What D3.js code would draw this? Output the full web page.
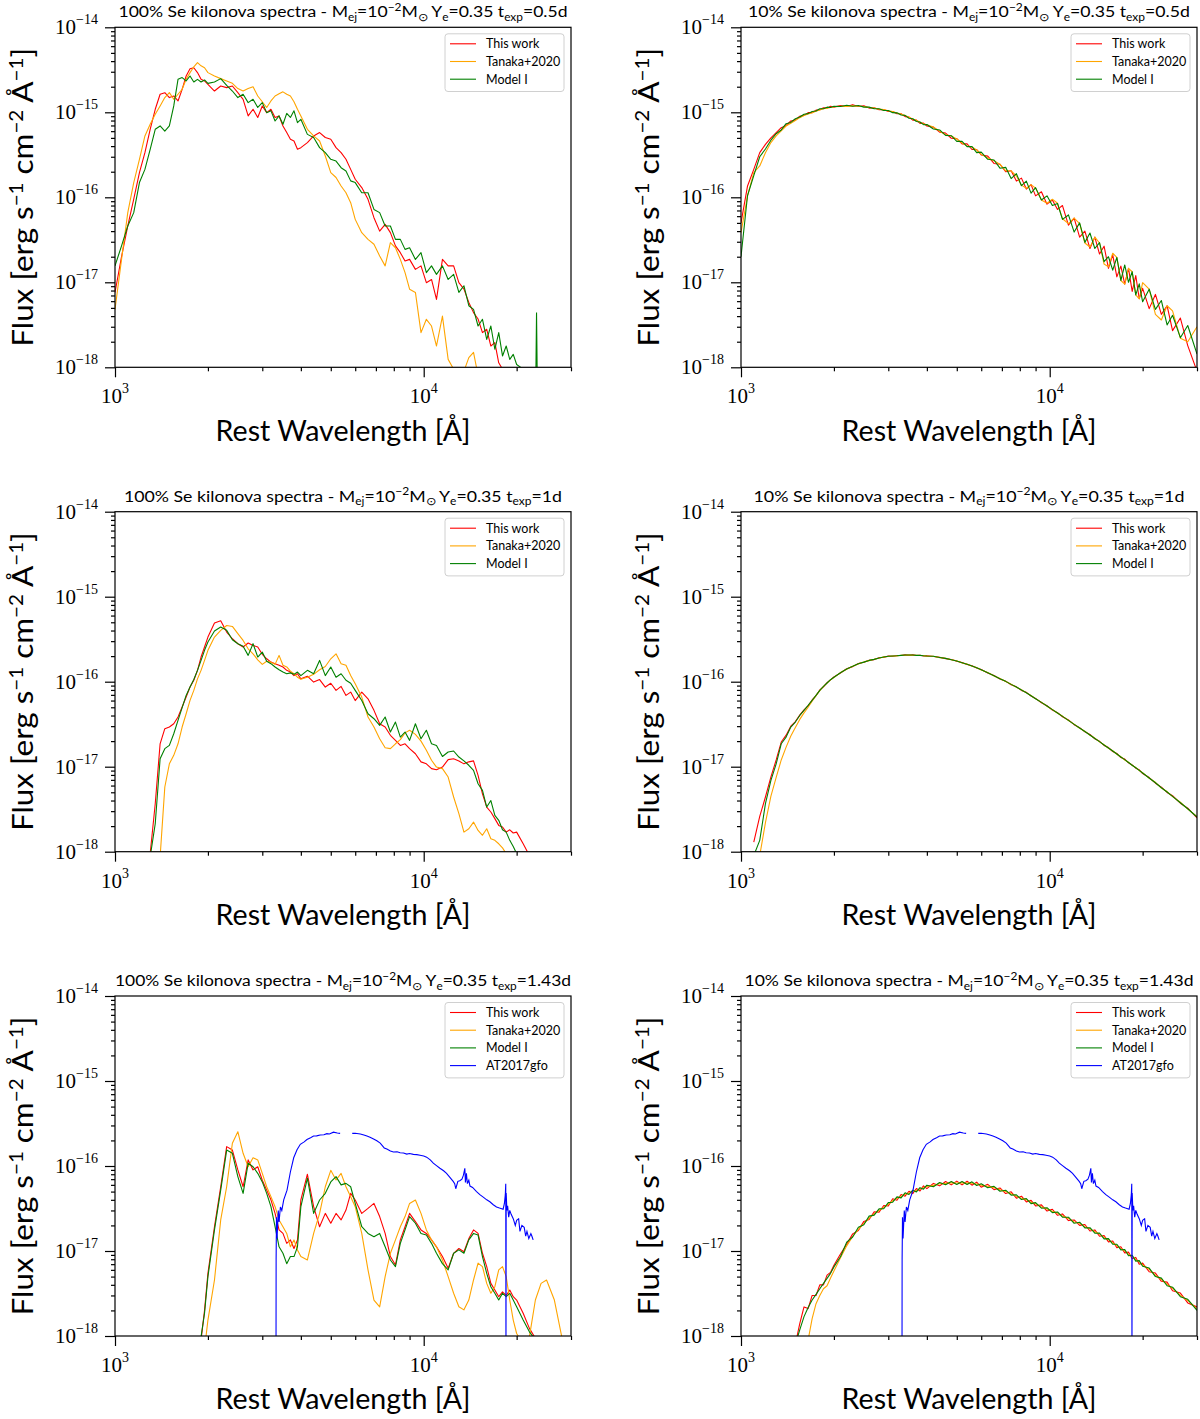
<!DOCTYPE html>
<html>
<head>
<meta charset="utf-8">
<script src="https://cdn.jsdelivr.net/npm/d3@7"></script>
<style>
  body { margin: 0; background: #fff; }
</style>
</head>
<body>
<main></main>
<script>
// DATA (flux values in units of 1e-18 erg s^-1 cm^-2 A^-1, null = not drawn)
const UNIT = 1e-18;

// wavelength grid shared by the model spectra [A]
const WL = [1000,1050,1100,1150,1200,1250,1300,1350,1400,1450,
  1500,1550,1600,1650,1700,1750,1800,1850,1900,1950,
  2000,2100,2200,2300,2400,2500,2600,2700,2800,2900,
  3000,3100,3200,3300,3400,3500,3600,3700,3800,3900,
  4000,4200,4400,4600,4800,5000,5200,5400,5600,5800,
  6000,6300,6600,6900,7200,7500,7800,8100,8400,8700,
  9000,9400,9800,10200,10600,11000,11500,12000,12500,13000,
  13500,14000,14500,15000,15500,16000,16500,17000,17500,18000,
  18500,19000,19500,20000,21000,22000,23000,24000,25000,26500,
  28000,30000];

// 100% Se, t = 0.5 d
const A_THIS = [7.6,20,46,95,195,335,631,1085,1630,1700,
  1490,1556,1360,1864,2675,3260,3340,2930,2443,2340,
  2130,1780,2040,1950,2040,1702,1422,906,1085,870,
  1188,991,1085,870,906,691,577,481,460,367,
  384,440,527,577,505,481,384,335,280,213,
  163,130,94.7,57.6,40,48,38.4,26.8,22.3,17.8,
  18.6,14.2,15.6,9.9,10.8,6.3,18.6,15.6,15.6,9.9,
  8.3,5.8,4.4,3.7,2.56,2.8,1.78,1.95,1.13,0.95,
  null,null,null,null,null,null,null,null,null,null,
  null,null];
const A_TANAKA = [4.8,18.6,66,149,280,527,723,950,1188,1490,
  1702,1422,1630,1864,2443,2930,3430,3841,3520,3340,
  2930,2675,2490,2340,2190,1900,1780,1900,2000,1556,
  1330,1140,1360,1556,1650,1740,1630,1556,1330,1085,
  906,631,527,460,306,195,171,136,113,86.5,
  55,38.4,32,28,20.4,15.6,29.3,25.5,18.6,13,
  8.3,7.6,2.56,3.67,3.06,1.78,4,1.24,0.95,0.8,
  0.9,1.3,1.5,0.8,null,null,null,null,null,null,
  null,null,null,null,null,null,null,null,null,null,
  null,null];
const A_MODEL = [15.6,26.8,46,66,149,213,367,631,691,600,
  691,1188,2443,2560,2340,2675,2270,2443,2270,2400,
  2190,2270,2490,2080,1780,1490,1630,1300,1422,1140,
  1300,991,1040,790,906,723,970,870,1040,756,
  828,550,505,384,335,280,267,223,204,156,
  149,113,113,72,66,46,46,32,32,24.4,
  25.5,18.6,22.3,13,15.6,12.4,15.6,10.8,12.4,7.6,
  9.1,5.3,4.8,3.06,3.67,2.13,3.06,1.63,2.56,1.36,
  1.78,1.24,1.42,1.08,0.95,null,null,null,null,null,
  null,null];
const A_MODEL_SPIKE_WL = [23050,23200,23350];
const A_MODEL_SPIKE_FLUX = [0.5,4.4,0.5];

// 10% Se, t = 0.5 d
const B_THIS = [50,136,213,335,420,500,577,660,700,790,
  810,900,920,990,990,1060,1070,1130,1120,1180,
  1150,1200,1170,1230,1170,1190,1120,1130,1070,1080,
  1020,1020,960,960,890,880,810,810,740,745,
  690,670,585,570,495,490,425,425,365,365,
  315,305,250,245,200,205,155,168,125,141,
  104,116,83,93,72,80,47,57,34,40,
  25,34,21.5,26.6,14.6,21,11.6,15.5,9.5,14.6,
  7.8,12,6.4,8.5,4.9,7.2,4.2,5.3,2.7,3.8,
  1.8,0.9];
const B_TANAKA = [38.5,104,195,234,335,440,527,603,690,745,
  800,865,915,955,990,1030,1065,1100,1120,1140,
  1160,1175,1175,1190,1180,1170,1140,1125,1090,1075,
  1040,1020,980,955,915,875,835,805,765,735,
  715,670,600,545,525,485,435,400,390,360,
  320,290,270,245,205,205,178,139,128,141,
  128,93,85,95,85,56,49,57,49,29,
  26,34,29,16.4,15.2,22,19.6,10.5,9.5,14.6,
  13.3,7.1,6.4,9.9,8.3,4.2,3.6,5.3,4.6,2.2,
  2.0,3.0];
const B_MODEL = [20,105,180,300,370,470,560,620,735,760,
  840,880,950,965,1020,1035,1100,1100,1150,1140,
  1180,1170,1210,1180,1200,1150,1150,1100,1100,1050,
  1050,990,985,930,920,850,840,780,770,715,
  720,635,620,535,530,455,455,395,395,335,
  340,280,275,220,225,166,190,137,155,112,
  130,93,104,80,84.6,55,62,39,50,29.5,
  38,25,29.3,17.5,20,13.9,19.6,10.5,16,10,
  13.3,7.1,9.6,5.9,8.3,4.8,6.1,3.15,4.1,2.23,
  3.1,1.43];

// 100% Se, t = 1 d
const C_THIS = [null,null,null,null,null,null,0.95,3.67,18.6,28,
  29.3,32,38.4,50.3,66,86.5,104,136,195,256,
  335,490,520,384,320,280,256,285,267,256,
  210,186,170,163,156,149,136,130,118,124,
  108,116,99,106,86.5,96,79,88,69,75.5,
  60,75.5,63,46,32,29.3,23.4,20.4,17.8,18.6,
  16.3,14.2,11.4,10.8,9.5,9.2,9.9,12.1,12.4,11.7,
  10.8,11.4,11.7,7.9,4.8,3.35,2.93,2.45,2.04,1.95,
  1.7,1.81,1.66,1.7,1.24,0.9,null,null,null,null,
  null,null];
const C_TANAKA = [null,null,null,null,null,null,null,null,0.87,5.77,
  10.8,13.6,18.6,29.3,42,60.3,79,108,136,178,
  234,335,402,458,447,367,306,244,213,181,
  160,174,170,160,204,156,149,133,124,113,
  107,113,122,138,151,186,213,163,156,118,
  94.7,66,38.4,29.3,21.3,16.7,16.3,18.6,20.8,25,
  26.8,24,20,15.6,11.9,9.9,9.5,7.56,4.4,2.8,
  1.7,1.86,2.23,1.78,1.56,1.86,1.42,1.36,1.24,1.11,
  0.95,null,null,null,null,null,null,null,null,null,
  null,null];
const C_MODEL = [null,null,null,null,null,null,0.87,2.13,12.4,16.3,
  17.8,24.4,35.1,49.5,69,86.5,106,136,178,234,
  293,394,440,402,312,280,261,204,280,195,
  223,174,163,149,138,130,124,127,122,130,
  118,136,124,178,118,149,113,124,104,96,
  79,60,42,36.7,30.6,38.4,25.6,33.5,22.3,25.6,
  20.4,32,21.3,26.8,18.6,17.8,13.2,14.9,15.3,13,
  11.7,10.4,9.06,6.3,5.27,3.35,4,2.67,2.34,1.81,
  1.7,1.36,1.15,0.95,null,null,null,null,null,null,
  null,null];

// 10% Se, t = 1 d
const D_THIS = [null,null,1.3,2.6,4.4,7.6,12,19.5,23.5,30,
  34,40.5,46.5,52,61,68.5,80,87,97.5,105,
  114,126.5,142,150.5,164,169,179,182,191,194,
  200,199.5,203,203,207,205,207,203,205,201,
  201.5,198,194,187,182.5,174,168,159,154,145,
  139,126.5,118.5,107.5,101.5,92,87,79,75,67.8,
  63.6,56.6,52.2,46.5,43.2,38.7,35.5,31.2,28.8,25.7,
  23.9,21.3,19.9,17.8,16.8,15.1,14.3,12.8,12.3,11.1,
  10.5,9.6,9.2,8.3,7.45,6.4,5.75,4.98,4.55,3.72,
  3.25,2.5];
const D_TANAKA = [null,null,null,0.9,2.2,4.5,7.5,12,17,23,
  29,36,43,50,59,68.5,78.5,88,96,105,
  112,128,140,152,162,171,177,184,189,196,
  198,201,201,205,205,207,205,205,203,203,
  200,199.5,192,189,181,176,166,161,152,147,
  137,128.5,117,109,100.4,93.5,86,80.3,73.9,68.8,
  62.8,57.5,51.4,47.2,42.5,39.4,34.9,31.7,28.3,26.2,
  23.4,21.7,19.6,18.1,16.5,15.4,14,13.1,12,11.3,
  10.3,9.8,9,8.5,7.3,6.55,5.6,5.1,4.45,3.82,
  3.17,2.6];
const D_MODEL = [null,null,0.9,1.36,3.67,6.91,10.8,18.6,22.3,29.3,
  33.5,40.1,46,52.6,60.3,69,79,88.1,96.5,105.6,
  113,127.6,141,151.5,163,170,178,183,190,195,
  199,200.5,202,204,206,206,206,204,204,202,
  200.5,199,193,188,181.5,175,167,160,153,146,
  138,127.6,117.7,108.4,100.9,93,86.5,79.8,74.3,68.4,
  63.1,57.1,51.7,46.9,42.8,39.1,35.1,31.5,28.5,26,
  23.6,21.5,19.7,18,16.6,15.3,14.1,13,12.1,11.2,
  10.4,9.73,9.06,8.42,7.36,6.48,5.66,5.04,4.48,3.77,
  3.2,2.56];

// 100% Se, t = 1.43 d
const E_THIS = [null,null,null,null,null,null,null,null,null,null,
  null,null,null,null,null,null,null,null,0.9,2.0,
  5.46,19.3,57,169,154,90,57,118,90,98,
  68,52,40,27.7,17.7,16.1,12.3,13.5,10.7,13.5,
  40,80,33.2,19.3,27.7,21.2,27.7,23.2,30.3,47.7,
  39.8,27.7,31.7,36.3,25.4,16.1,8.6,6.84,13.5,19.3,
  27.7,22.2,17.7,16.1,13.5,11.2,8.6,6.25,9.4,10.7,
  9.8,14,17.7,16.1,9.4,6.54,4.16,3.47,2.9,3.3,
  3.0,3.47,2.9,2.65,1.85,1.23,0.94,null,null,null,
  null,null];
const E_TANAKA = [null,null,null,null,null,null,null,null,null,null,
  null,null,null,null,null,null,null,null,null,0.7,
  1.54,4.56,23.2,57,185,253,141,98,125,118,
  82,57,43.6,33.2,23.2,19.3,16.1,11.2,13.5,10.3,
  8.6,7.84,16.1,27.7,57,89,68.4,82,57,43.6,
  33.2,16.1,6,2.65,2.2,5,9.4,13.5,19.3,25.4,
  36.3,39.8,27.7,17.7,13.5,11.2,7.84,5,3.18,2.21,
  2.03,2.65,4.56,7.2,6.54,4.16,3.18,3.8,6,6.54,
  5,2.65,1.54,1.07,0.8,0.98,2.65,4.16,4.56,2.65,
  0.98,null];
const E_MODEL = [null,null,null,null,null,null,null,null,null,null,
  null,null,null,null,null,null,null,null,0.98,1.85,
  5,17.7,52,154,141,75,47.7,108,98,82,
  65,47.7,33.2,19.3,11.2,9.4,7.1,8.6,8.6,11.2,
  33.2,72,27.7,39.8,47.7,65,75,60,62.5,57,
  36.3,19.3,16.1,14.7,16.1,11.2,7.84,6.54,12.3,17.7,
  25.4,21.2,16.1,15.4,12.3,9.4,7.1,6,9.4,10.3,
  9.4,13.5,16.1,15.4,8.6,5.46,3.8,3.18,2.65,3.18,
  2.9,3.18,2.65,2.21,1.54,1.12,0.9,null,null,null,
  null,null];

// 10% Se, t = 1.43 d
const F_THIS = [null,null,null,null,null,null,null,null,null,null,
  0.8,1.4,2.2,2.1,3.0,3.0,4.0,4.0,5.2,5.6,
  6.8,9.2,12.0,15.9,17.4,22.3,23.5,28.9,28.6,34.3,
  33.9,41.1,39.5,46.2,44.2,50.5,47.4,54.3,50.8,58.3,
  54.2,62.4,58.4,65.7,60.0,66.4,60.0,66.2,59.5,64.6,
  56.4,60.8,52.7,55.2,47.4,49.7,41.8,44.1,37.8,39.5,
  33.9,34.9,29.5,31.0,26.3,27.3,22.8,23.2,20.0,20.5,
  17.2,17.7,14.9,15.2,12.8,13.1,10.9,11.2,9.5,9.7,
  8.1,8.4,7.0,7.2,5.7,5.5,4.4,4.3,3.4,3.2,
  2.45,2.2];
const F_TANAKA = [null,null,null,null,null,null,null,null,null,null,
  null,null,null,0.9,1.6,2.4,3.0,3.6,3.9,4.8,
  5.8,8.3,11.5,14.8,18.0,21.0,24.4,27.3,30.0,32.5,
  35.5,39.0,41.8,43.8,46.7,48.0,50.1,51.5,53.7,55.3,
  57.3,59.2,61.7,62.4,63.4,63.0,63.4,62.8,62.8,61.3,
  59.6,57.7,55.7,52.4,50.1,47.1,44.2,41.8,40.0,37.4,
  35.9,33.0,31.3,29.3,27.9,25.8,24.2,21.9,21.2,19.3,
  18.3,16.8,15.8,14.4,13.6,12.4,11.6,10.6,10.1,9.1,
  8.65,7.9,7.5,6.85,6.1,5.15,4.65,4.05,3.65,3.0,
  2.62,2.1];
const F_MODEL = [null,null,null,null,null,null,null,null,null,null,
  0.8,1.18,1.69,2.17,2.65,3.09,3.6,4.16,4.76,5.46,
  6.5,8.55,12.7,14.6,19.0,20.4,25.7,26.4,31.3,31.4,
  37.1,37.5,43.3,42.2,48.4,46.2,51.9,49.6,55.6,53.3,
  59.4,57.0,64.0,60.1,65.7,60.7,65.7,60.5,65.1,59.0,
  61.8,55.6,57.7,50.5,51.9,45.4,45.8,40.3,41.4,36.1,
  37.1,31.9,32.3,28.3,28.8,25.0,25.0,21.2,21.8,18.7,
  18.8,16.2,16.3,13.9,14.0,12.0,12.0,10.3,10.4,8.8,
  8.9,7.6,7.7,6.6,6.3,5.0,4.8,3.9,3.75,2.9,
  2.7,2.0];

// AT2017gfo observed spectrum (same in both bottom panels)
const AT2017GFO_WL = [3300,3323,3326,3335,3349,3380,3400,3434,3470,3520,
  3608,3699,3792,3887,3984,4100,4186,4300,4398,4500,
  4621,4750,4856,4950,5102,5250,5361,5500,5868,6000,
  6232,6400,6548,6700,6880,7050,7229,7400,7450,7596,
  7800,7981,8200,8386,8600,8811,9000,9258,9500,9728,
  10000,10221,10500,10740,11000,11285,11600,11857,12100,12458,
  12600,12700,12900,13090,13300,13450,13590,13650,13750,13850,
  14000,14120,14400,14830,15200,15590,16000,16380,16800,17210,
  17600,18080,18250,18380,18440,18470,18500,18600,18700,18850,
  19000,19200,19500,19800,20000,20300,20500,20800,21160,21400,
  21600,21900,22240,22400,22620];
const AT2017GFO_FLUX = [0.5,0.5,8,25,14,30,22,33,30,40,
  52,85,125,155,180,192,205,215,225,226,
  232,233,240,238,250,244,242,null,242,243,
  238,232,225,218,208,198,186,168,163,158,
  150,146,147,143,142,138,140,137,136,134,
  131,127,118,108,101,94,88,82,75,66,
  62,54,66,67,70,78,94,64,82,62,
  68,58,56,50,46,43,40,38,35,33,
  32,31,36,46,62,0.5,48,30,34,25,
  30,27,24,20,23,24,17,20,19,15,
  17,14,16,15,13.5];

// labels and ticks
const COL_FRACTION = ["100%", "10%"];
const ROW_TIME = ["0.5d", "1d", "1.43d"];
const LEGEND_LABELS = ["This work", "Tanaka+2020", "Model I", "AT2017gfo"];
const X_MAJOR_EXP = [3, 4];
const X_MINOR = [2000,3000,4000,5000,6000,7000,8000,9000,20000,30000];
const Y_MAJOR_EXP = [-18, -17, -16, -15, -14];
const X_DOMAIN = [1000, 30000];
const Y_DOMAIN = [1e-18, 1e-14];

const GRID = [
  [[A_THIS, A_TANAKA, A_MODEL], [B_THIS, B_TANAKA, B_MODEL]],
  [[C_THIS, C_TANAKA, C_MODEL], [D_THIS, D_TANAKA, D_MODEL]],
  [[E_THIS, E_TANAKA, E_MODEL], [F_THIS, F_TANAKA, F_MODEL]]
];



// LAYOUT
const W = 456, H = 340;
const COL_X = [115, 741];
const ROW_Y = [27.3, 511.7, 996];
const COLORS = ["#ff0000", "#ffa500", "#008000", "#0000ff"];
const SANS = "Lato, 'Open Sans', sans-serif";
const SERIF = "'Liberation Serif', 'DejaVu Serif', serif";
const TITLE_W = [[450, 443], [439, 432], [457, 450]];

const svg = d3.select("main").append("svg")
  .attr("width", 1200)
  .attr("height", 1419)
  .style("display", "block")
  .style("background", "#fff");

const x = d3.scaleLog().domain(X_DOMAIN).range([0, W]);
const y = d3.scaleLog().domain(Y_DOMAIN).range([H, 0]);

const line = d3.line()
  .defined(d => d[1] != null)
  .x(d => x(d[0]))
  .y(d => y(d[1] * UNIT));

const yMinor = [];
Y_MAJOR_EXP.slice(0, -1).forEach(e => {
  for (let k = 2; k <= 9; k++) yMinor.push(k * Math.pow(10, e));
});

// squeeze a text node to a target width
function fitWidth(node, target) {
  const w = node.getBBox().width;
  return w > 0 ? target / w : 1;
}

function powLabel(g, px, py, exp, anchor) {
  const t = g.append("text")
    .attr("x", px).attr("y", py)
    .attr("text-anchor", anchor)
    .attr("font-family", SERIF)
    .attr("font-size", 21)
    .attr("fill", "#000");
  t.append("tspan").text("10");
  t.append("tspan").attr("dy", -10).attr("font-size", 14)
    .text(exp < 0 ? "\u2212" + (-exp) : String(exp));
}

// parts: [text, kind] with kind 0 = normal, 1 = subscript, 2 = superscript
function richText(el, parts, size, subSize, subDy, supDy) {
  let shift = 0;
  parts.forEach(([s, k]) => {
    const target = k === 1 ? subDy : k === 2 ? supDy : 0;
    el.append("tspan")
      .attr("dy", target - shift)
      .attr("font-size", k ? subSize : size)
      .text(s);
    shift = target;
  });
}

let clipId = 0;
GRID.forEach((row, r) => {
  row.forEach((series, c) => {
    const g = svg.append("g").attr("transform", `translate(${COL_X[c]},${ROW_Y[r]})`);
    const id = "clip" + (clipId++);
    g.append("clipPath").attr("id", id)
      .append("rect").attr("width", W).attr("height", H);

    // spectra
    const plot = g.append("g").attr("clip-path", `url(#${id})`);
    series.forEach((vals, i) => {
      plot.append("path")
        .datum(WL.map((w, j) => [w, vals[j]]))
        .attr("d", line)
        .attr("fill", "none")
        .attr("stroke", COLORS[i])
        .attr("stroke-width", 1.1)
        .attr("stroke-linejoin", "round");
      if (r === 0 && c === 0 && i === 2) {
        plot.append("path")
          .datum(A_MODEL_SPIKE_WL.map((w, j) => [w, A_MODEL_SPIKE_FLUX[j]]))
          .attr("d", line)
          .attr("fill", "none")
          .attr("stroke", COLORS[2])
          .attr("stroke-width", 1.1);
      }
    });
    const nSeries = r === 2 ? 4 : 3;
    if (r === 2) {
      plot.append("path")
        .datum(AT2017GFO_WL.map((w, j) => [w, AT2017GFO_FLUX[j]]))
        .attr("d", line)
        .attr("fill", "none")
        .attr("stroke", COLORS[3])
        .attr("stroke-width", 1.1);
    }

    // axes (ticks only, the frame is drawn below)
    const axes = [
      g.append("g").attr("transform", `translate(0,${H})`)
        .call(d3.axisBottom(x).tickValues(X_MINOR).tickSize(4).tickFormat("")),
      g.append("g").attr("transform", `translate(0,${H})`)
        .call(d3.axisBottom(x).tickValues(X_MAJOR_EXP.map(e => Math.pow(10, e))).tickSize(10).tickFormat("")),
      g.append("g")
        .call(d3.axisLeft(y).tickValues(yMinor).tickSize(4).tickFormat("")),
      g.append("g")
        .call(d3.axisLeft(y).tickValues(Y_MAJOR_EXP.map(e => Math.pow(10, e))).tickSize(10).tickFormat(""))
    ];
    axes.forEach(a => {
      a.select(".domain").remove();
      a.selectAll("line").attr("stroke", "#000").attr("stroke-width", 1.2);
    });

    g.append("rect")
      .attr("width", W).attr("height", H)
      .attr("fill", "none").attr("stroke", "#000").attr("stroke-width", 1.2);

    // tick labels
    X_MAJOR_EXP.forEach(e => powLabel(g, x(Math.pow(10, e)), H + 36, e, "middle"));
    Y_MAJOR_EXP.forEach(e => powLabel(g, -17, y(Math.pow(10, e)) + 7, e, "end"));

    // title
    const title = g.append("text")
      .attr("x", W / 2).attr("y", -10)
      .attr("text-anchor", "middle")
      .attr("font-family", SANS)
      .attr("fill", "#000");
    richText(title, [
      [COL_FRACTION[c] + " Se kilonova spectra - M", 0], ["ej", 1], ["=10", 0], ["\u22122", 2],
      ["M", 0], ["\u2299", 1], [" Y", 0], ["e", 1], ["=0.35 t", 0], ["exp", 1], ["=" + ROW_TIME[r], 0]
    ], 15.5, 10.5, 3.5, -6.5);
    const ts = fitWidth(title.node(), TITLE_W[r][c]);
    title.attr("transform", `translate(${W / 2},0) scale(${ts},1) translate(${-W / 2},0)`);

    // x label
    const xl = g.append("text")
      .attr("x", W / 2).attr("y", H + 73.5)
      .attr("text-anchor", "middle")
      .attr("font-family", SANS)
      .attr("font-size", 29)
      .attr("fill", "#000")
      .text("Rest Wavelength [\u00c5]");
    const xs = fitWidth(xl.node(), 255);
    xl.attr("transform", `translate(${W / 2},0) scale(${xs},1) translate(${-W / 2},0)`);

    // y label
    const yg = g.append("g").attr("transform", `translate(-82,${H / 2}) rotate(-90)`);
    const yl = yg.append("text")
      .attr("x", 0).attr("y", 0)
      .attr("text-anchor", "middle")
      .attr("font-family", SANS)
      .attr("fill", "#000");
    richText(yl, [["Flux [erg s", 0], ["\u22121", 2], [" cm", 0], ["\u22122", 2], [" \u00c5", 0], ["\u22121", 2], ["]", 0]],
      29, 19, 0, -10);
    const ys = fitWidth(yl.node(), 299);
    yl.attr("transform", `scale(${ys},1)`);

    // legend
    const lg = g.append("g").attr("transform", `translate(${W - 7 - 119},6.5)`);
    lg.append("rect")
      .attr("width", 119).attr("height", nSeries * 17.7 + 4.6)
      .attr("rx", 3)
      .attr("fill", "#fff").attr("fill-opacity", 0.8)
      .attr("stroke", "#d0d0d0").attr("stroke-width", 1);
    LEGEND_LABELS.slice(0, nSeries).forEach((lab, i) => {
      const cy = 10 + 17.7 * i;
      lg.append("line")
        .attr("x1", 5).attr("x2", 31).attr("y1", cy).attr("y2", cy)
        .attr("stroke", COLORS[i]).attr("stroke-width", 1.1);
      lg.append("text")
        .attr("x", 41).attr("y", cy).attr("dy", "0.36em")
        .attr("font-family", SANS).attr("font-size", 12.5)
        .attr("fill", "#000")
        .text(lab);
    });
  });
});
</script>
</body>
</html>
